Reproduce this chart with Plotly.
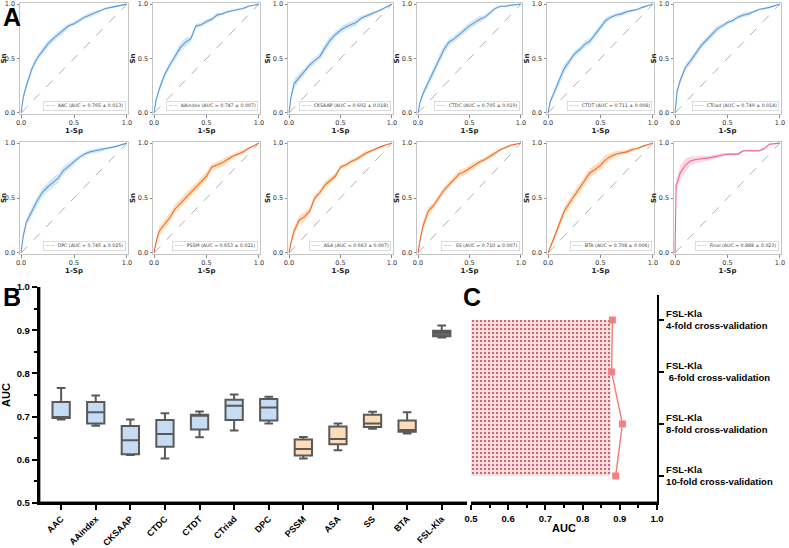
import plotly.graph_objects as go

# ---------------- data ----------------
FPR = [0, 0.01, 0.02, 0.05, 0.1, 0.15, 0.2, 0.25, 0.3, 0.35, 0.4, 0.45, 0.5,
       0.55, 0.6, 0.65, 0.7, 0.75, 0.8, 0.85, 0.9, 1.0]
CHANCE = [0, 1]

roc_names = ["AAC", "AAindex", "CKSAAP", "CTDC", "CTDT", "CTriad",
             "DPC", "PSSM", "ASA", "SS", "BTA", "Final"]
roc_auc = ["0.765 ± 0.013", "0.747 ± 0.007", "0.692 ± 0.018", "0.705 ± 0.019",
           "0.711 ± 0.008", "0.749 ± 0.014", "0.745 ± 0.025", "0.653 ± 0.021",
           "0.663 ± 0.007", "0.710 ± 0.007", "0.708 ± 0.006", "0.888 ± 0.023"]
roc_group = ["seq"] * 7 + ["struct"] * 4 + ["final"]

tpr_AAC = [0, 0.08, 0.14, 0.25, 0.40, 0.50, 0.57, 0.63, 0.68, 0.72, 0.76, 0.80, 0.82, 0.85, 0.88, 0.90, 0.92, 0.94, 0.96, 0.97, 0.98, 1.0]
tpr_AAindex = [0, 0.09, 0.12, 0.22, 0.35, 0.44, 0.52, 0.60, 0.65, 0.68, 0.80, 0.81, 0.84, 0.86, 0.90, 0.91, 0.93, 0.94, 0.95, 0.96, 0.98, 1.0]
tpr_CKSAAP = [0, 0.08, 0.15, 0.27, 0.33, 0.38, 0.44, 0.48, 0.52, 0.60, 0.67, 0.72, 0.76, 0.79, 0.81, 0.83, 0.87, 0.89, 0.91, 0.93, 0.95, 1.0]
tpr_CTDC = [0, 0.06, 0.10, 0.18, 0.28, 0.38, 0.48, 0.58, 0.65, 0.68, 0.72, 0.76, 0.80, 0.83, 0.86, 0.88, 0.92, 0.96, 0.98, 0.98, 0.99, 1.0]
tpr_CTDT = [0, 0.06, 0.10, 0.17, 0.28, 0.40, 0.47, 0.54, 0.58, 0.63, 0.66, 0.72, 0.78, 0.85, 0.88, 0.90, 0.91, 0.93, 0.94, 0.95, 0.97, 1.0]
tpr_CTriad = [0, 0.15, 0.20, 0.30, 0.42, 0.48, 0.55, 0.62, 0.67, 0.72, 0.77, 0.80, 0.83, 0.85, 0.88, 0.90, 0.91, 0.93, 0.95, 0.96, 0.97, 1.0]
tpr_DPC = [0, 0.08, 0.15, 0.28, 0.38, 0.47, 0.55, 0.60, 0.64, 0.68, 0.75, 0.79, 0.83, 0.87, 0.90, 0.92, 0.93, 0.94, 0.95, 0.96, 0.97, 1.0]
tpr_PSSM = [0, 0.05, 0.10, 0.20, 0.26, 0.32, 0.40, 0.45, 0.50, 0.55, 0.60, 0.65, 0.70, 0.78, 0.80, 0.82, 0.85, 0.88, 0.90, 0.92, 0.95, 1.0]
tpr_ASA = [0, 0.05, 0.10, 0.20, 0.30, 0.33, 0.38, 0.50, 0.55, 0.62, 0.66, 0.70, 0.78, 0.80, 0.83, 0.85, 0.88, 0.91, 0.93, 0.95, 0.97, 1.0]
tpr_SS = [0, 0.07, 0.12, 0.25, 0.38, 0.43, 0.50, 0.57, 0.62, 0.67, 0.72, 0.74, 0.77, 0.80, 0.83, 0.85, 0.88, 0.91, 0.94, 0.96, 0.98, 1.0]
tpr_BTA = [0, 0.03, 0.05, 0.12, 0.25, 0.37, 0.45, 0.52, 0.60, 0.67, 0.73, 0.76, 0.80, 0.85, 0.88, 0.90, 0.91, 0.92, 0.94, 0.95, 0.97, 1.0]
tpr_Final = [0, 0.62, 0.64, 0.73, 0.80, 0.84, 0.85, 0.855, 0.86, 0.87, 0.88, 0.89, 0.90, 0.90, 0.90, 0.93, 0.93, 0.93, 0.93, 0.95, 0.99, 1.0]

sd_AAC = [0, 0.02, 0.03, 0.03, 0.03, 0.03, 0.03, 0.03, 0.03, 0.03, 0.03, 0.02, 0.02, 0.02, 0.02, 0.02, 0.02, 0.01, 0.01, 0.01, 0.01, 0]
sd_AAindex = [0, 0.02, 0.02, 0.03, 0.03, 0.03, 0.04, 0.04, 0.04, 0.03, 0.02, 0.02, 0.02, 0.02, 0.02, 0.01, 0.01, 0.01, 0.01, 0.01, 0.01, 0]
sd_CKSAAP = [0, 0.02, 0.03, 0.04, 0.04, 0.03, 0.03, 0.03, 0.03, 0.04, 0.04, 0.03, 0.03, 0.03, 0.03, 0.03, 0.02, 0.02, 0.02, 0.01, 0.01, 0]
sd_CTDC = [0, 0.02, 0.02, 0.03, 0.04, 0.04, 0.04, 0.04, 0.03, 0.03, 0.03, 0.03, 0.03, 0.03, 0.03, 0.02, 0.02, 0.01, 0.01, 0.01, 0.01, 0]
sd_CTDT = [0, 0.02, 0.02, 0.03, 0.04, 0.04, 0.03, 0.03, 0.03, 0.03, 0.03, 0.03, 0.03, 0.03, 0.02, 0.02, 0.02, 0.02, 0.01, 0.01, 0.01, 0]
sd_CTriad = [0, 0.03, 0.03, 0.03, 0.03, 0.03, 0.03, 0.03, 0.03, 0.03, 0.03, 0.02, 0.02, 0.02, 0.02, 0.02, 0.02, 0.01, 0.01, 0.01, 0.01, 0]
sd_DPC = [0, 0.02, 0.03, 0.03, 0.04, 0.04, 0.04, 0.04, 0.05, 0.04, 0.04, 0.03, 0.03, 0.02, 0.02, 0.02, 0.02, 0.02, 0.01, 0.01, 0.01, 0]
sd_PSSM = [0, 0.02, 0.03, 0.04, 0.04, 0.04, 0.04, 0.04, 0.04, 0.04, 0.04, 0.04, 0.04, 0.03, 0.03, 0.03, 0.03, 0.02, 0.02, 0.02, 0.01, 0]
sd_ASA = [0, 0.02, 0.03, 0.04, 0.04, 0.04, 0.03, 0.03, 0.03, 0.03, 0.03, 0.03, 0.02, 0.02, 0.02, 0.02, 0.02, 0.02, 0.01, 0.01, 0.01, 0]
sd_SS = [0, 0.02, 0.03, 0.04, 0.04, 0.03, 0.03, 0.03, 0.03, 0.03, 0.03, 0.03, 0.03, 0.03, 0.02, 0.02, 0.02, 0.02, 0.01, 0.01, 0.01, 0]
sd_BTA = [0, 0.01, 0.02, 0.03, 0.04, 0.04, 0.04, 0.04, 0.04, 0.04, 0.04, 0.04, 0.04, 0.04, 0.03, 0.03, 0.02, 0.02, 0.02, 0.01, 0.01, 0]
sd_Final = [0, 0.05, 0.06, 0.07, 0.06, 0.04, 0.03, 0.03, 0.02, 0.02, 0.02, 0.02, 0.01, 0.01, 0.01, 0.01, 0.01, 0.01, 0.01, 0.01, 0.01, 0]

roc_tpr = [tpr_AAC, tpr_AAindex, tpr_CKSAAP, tpr_CTDC, tpr_CTDT, tpr_CTriad,
           tpr_DPC, tpr_PSSM, tpr_ASA, tpr_SS, tpr_BTA, tpr_Final]
roc_sd = [sd_AAC, sd_AAindex, sd_CKSAAP, sd_CTDC, sd_CTDT, sd_CTriad,
          sd_DPC, sd_PSSM, sd_ASA, sd_SS, sd_BTA, sd_Final]

# panel B (box plot of AUC)
box_cats = ["AAC", "AAindex", "CKSAAP", "CTDC", "CTDT", "CTriad", "DPC",
            "PSSM", "ASA", "SS", "BTA", "FSL-Kla"]
box_upper = [0.766, 0.749, 0.693, 0.708, 0.712, 0.751, 0.746, 0.653, 0.684, 0.711, 0.710, 0.911]
box_q3 = [0.734, 0.734, 0.678, 0.692, 0.704, 0.739, 0.741, 0.647, 0.677, 0.704, 0.691, 0.899]
box_median = [0.698, 0.710, 0.645, 0.660, 0.702, 0.725, 0.721, 0.625, 0.648, 0.684, 0.669, 0.894]
box_q1 = [0.697, 0.684, 0.613, 0.630, 0.670, 0.692, 0.691, 0.610, 0.636, 0.676, 0.665, 0.886]
box_lower = [0.693, 0.679, 0.611, 0.603, 0.652, 0.668, 0.684, 0.603, 0.622, 0.672, 0.661, 0.883]
box_group = ["seq"] * 7 + ["struct"] * 4 + ["final"]
B_TICKS = [0.5, 0.6, 0.7, 0.8, 0.9, 1.0]

# panel C (cross-validation)
cv_labels = ["FSL-Kla<br>10-fold cross-validation",
             "FSL-Kla<br>8-fold cross-validation",
             "FSL-Kla<br> 6-fold cross-validation",
             "FSL-Kla<br>4-fold cross-validation"]
cv_auc = [0.889, 0.907, 0.878, 0.880]
cv_fill_edge = 0.875

# ---------------- styling ----------------
W, H = 789, 548
LINE = {"seq": "#5b9bd5", "struct": "#ef6a2e", "final": "#f0609a"}
BAND = {"seq": "rgba(160,205,240,0.45)", "struct": "rgba(250,190,120,0.5)",
        "final": "rgba(245,170,200,0.45)"}
BOXFILL = {"seq": "#c5dcf4", "struct": "#fddcb9", "final": "#6b6b6b"}

col_px = [(20, 128), (153, 260), (288, 393), (417, 522), (547, 654), (674, 781)]
row_px = [(3, 114), (142, 254)]
B_BOX = (39, 467, 287, 503)   # left, right, top, bottom (px)
C_BOX = (471, 657, 295, 503)


def xd(a, b):
    return [a / W, b / W]


def yd(top, bottom):
    return [1 - bottom / H, 1 - top / H]


fig = go.Figure()
layout = {}
annotations = []
shapes = []
A_FONT = "DejaVu Sans, sans-serif"
B_FONT = "Liberation Sans, Arial, sans-serif"

for i, name in enumerate(roc_names):
    n = i + 1
    xs = "x" if n == 1 else f"x{n}"
    ys = "y" if n == 1 else f"y{n}"
    g = roc_group[i]
    tpr = roc_tpr[i]
    sd = roc_sd[i]
    upper = [min(1.0, t + s) for t, s in zip(tpr, sd)]
    lower = [max(0.0, t - s) for t, s in zip(tpr, sd)]
    fig.add_trace(go.Scatter(x=FPR, y=upper, mode="lines", line=dict(width=0),
                             xaxis=xs, yaxis=ys, showlegend=False, hoverinfo="skip"))
    fig.add_trace(go.Scatter(x=FPR, y=lower, mode="lines", line=dict(width=0),
                             fill="tonexty", fillcolor=BAND[g],
                             xaxis=xs, yaxis=ys, showlegend=False, hoverinfo="skip"))
    fig.add_trace(go.Scatter(x=CHANCE, y=CHANCE, mode="lines",
                             line=dict(color="#9a9a9a", width=0.8, dash="dash"),
                             xaxis=xs, yaxis=ys, showlegend=False))
    fig.add_trace(go.Scatter(x=FPR, y=tpr, mode="lines",
                             line=dict(color=LINE[g], width=1.1),
                             xaxis=xs, yaxis=ys, showlegend=False))
    r, c = divmod(i, 6)
    axis_common = dict(range=[-0.01, 1.01], showline=True, mirror=True,
                       linecolor="#c4c4c4", linewidth=1, ticks="outside",
                       ticklen=2.5, tickwidth=0.8, tickcolor="#888",
                       tickvals=[0, 0.5, 1], ticktext=["0.0", "0.5", "1.0"],
                       tickfont=dict(size=6.5, color="#333", family=A_FONT),
                       showgrid=False, zeroline=False, automargin=False)
    layout["xaxis" if n == 1 else f"xaxis{n}"] = dict(
        axis_common, domain=xd(*col_px[c]), anchor=ys,
        title=dict(text="<b>1-Sp</b>", standoff=1,
                   font=dict(size=7, color="#222", family=A_FONT)))
    layout["yaxis" if n == 1 else f"yaxis{n}"] = dict(
        axis_common, domain=yd(*row_px[r]), anchor=xs,
        title=dict(text="<b>Sn</b>", standoff=1,
                   font=dict(size=7, color="#222", family=A_FONT)))
    annotations.append(dict(
        xref=f"{xs} domain", yref=f"{ys} domain", x=0.985, y=0.03,
        xanchor="right", yanchor="bottom", showarrow=False,
        text=f'<span style="color:{LINE[g]}">——</span>  {name} (AUC = {roc_auc[i]})',
        font=dict(size=4.7, color="#444", family=A_FONT),
        bgcolor="white", bordercolor="#d4d4d4", borderwidth=0.8, borderpad=1.5))

# ---------------- panel B ----------------
for i, cat in enumerate(box_cats):
    g = box_group[i]
    fig.add_trace(go.Box(
        x=[cat], q1=[box_q1[i]], median=[box_median[i]], q3=[box_q3[i]],
        lowerfence=[box_lower[i]], upperfence=[box_upper[i]],
        fillcolor=BOXFILL[g], line=dict(color="#595959", width=2),
        width=0.5, whiskerwidth=0.5, boxpoints=False,
        xaxis="x13", yaxis="y13", showlegend=False))

bold_axis = dict(showline=True, linecolor="black", linewidth=2.4, ticks="outside",
                 ticklen=5, tickwidth=1.5, tickcolor="black", showgrid=False,
                 zeroline=False, automargin=False,
                 tickfont=dict(size=9.5, color="black", family=B_FONT))

layout["xaxis13"] = dict(
    bold_axis, domain=xd(B_BOX[0], B_BOX[1]), anchor="y13", type="category",
    categoryorder="array", categoryarray=box_cats, range=[-0.64, 11.73],
    tickangle=-45, tickvals=box_cats, ticktext=[f"<b>{c}</b>" for c in box_cats],
    tickfont=dict(size=9, color="black", family=B_FONT))
layout["yaxis13"] = dict(
    bold_axis, domain=yd(B_BOX[2], B_BOX[3]), anchor="x13", range=[0.5, 1.0],
    tickvals=B_TICKS, ticktext=[f"<b>{v:.1f}</b>" for v in B_TICKS],
    minor=dict(ticks="outside", dtick=0.05, ticklen=3, tickwidth=1.5, tickcolor="black"),
    title=dict(text="<b>AUC</b>", standoff=6, font=dict(size=11, color="black", family=B_FONT)))

# ---------------- panel C ----------------
fig.add_trace(go.Scatter(
    x=[cv_fill_edge] * len(cv_labels), y=cv_labels, mode="none",
    fill="tozerox", fillcolor="#fbd6d6",
    fillpattern=dict(shape=".", fgcolor="#b84a5a", bgcolor="#fcdede",
                     size=4, solidity=0.22),
    xaxis="x14", yaxis="y14", showlegend=False, hoverinfo="skip"))
fig.add_trace(go.Scatter(
    x=cv_auc, y=cv_labels, mode="lines+markers",
    line=dict(color="#f07a7a", width=1.4),
    marker=dict(symbol="square", size=7, color="#f47f85"),
    xaxis="x14", yaxis="y14", showlegend=False))

layout["xaxis14"] = dict(
    bold_axis, domain=xd(C_BOX[0], C_BOX[1]), anchor="y14", range=[0.5, 1.0],
    tickvals=B_TICKS, ticktext=[f"<b>{v:.1f}</b>" for v in B_TICKS],
    minor=dict(ticks="outside", dtick=0.05, ticklen=3, tickwidth=1.5, tickcolor="black"),
    title=dict(text="<b>AUC</b>", standoff=2, font=dict(size=11, color="black", family=B_FONT)))
layout["yaxis14"] = dict(
    bold_axis, domain=yd(C_BOX[2], C_BOX[3]), anchor="x14", side="right", type="category",
    categoryorder="array", categoryarray=cv_labels, range=[-0.52, 3.48],
    tickvals=cv_labels, ticktext=[f"<b>{t}</b>" for t in cv_labels])

# ---- page-pixel overlay used only to draw the B/C axis spines (not data) ----
spine_x = [B_BOX[0], B_BOX[0], None, B_BOX[0], B_BOX[1], None, C_BOX[0], C_BOX[1]]
spine_y = [B_BOX[2], B_BOX[3], None, B_BOX[3], B_BOX[3], None, C_BOX[3], C_BOX[3]]
fig.add_trace(go.Scatter(x=spine_x, y=spine_y, mode="lines",
                         line=dict(color="black", width=2.4),
                         xaxis="x15", yaxis="y15", showlegend=False,
                         hoverinfo="skip", connectgaps=False))
layout["xaxis15"] = dict(domain=[0, 1], range=[0, W], visible=False,
                         anchor="y15", fixedrange=True)
layout["yaxis15"] = dict(domain=[0, 1], range=[H, 0], visible=False,
                         anchor="x15", fixedrange=True)

# spines also as filled rectangles in page coordinates
for (x0, x1, y0, y1) in [(B_BOX[0] - 1.2, B_BOX[0] + 1.2, B_BOX[2], B_BOX[3] + 1.2),
                         (B_BOX[0] - 1.2, B_BOX[1], B_BOX[3] - 1.2, B_BOX[3] + 1.2),
                         (C_BOX[0], C_BOX[1] + 1.2, C_BOX[3] - 1.2, C_BOX[3] + 1.2)]:
    shapes.append(dict(type="rect", xref="paper", yref="paper",
                       x0=x0 / W, x1=x1 / W, y0=1 - y1 / H, y1=1 - y0 / H,
                       fillcolor="black", line=dict(width=0), layer="above"))

# panel letters
for letter, x, y in [("A", 1, 1), ("B", 1, 281), ("C", 461, 281)]:
    annotations.append(dict(xref="paper", yref="paper", x=x / W, y=1 - y / H,
                            xanchor="left", yanchor="top", showarrow=False,
                            text=f"<b>{letter}</b>",
                            font=dict(size=25, color="black", family=B_FONT)))

fig.update_layout(
    template="none",
    width=W, height=H, margin=dict(l=0, r=0, t=0, b=0, pad=0),
    paper_bgcolor="white", plot_bgcolor="rgba(0,0,0,0)", boxmode="overlay",
    annotations=annotations, shapes=shapes, **layout)

fig.write_html("out.html", config={"displayModeBar": False},
               post_script="document.body.style.margin='0';document.body.style.overflow='hidden';")
